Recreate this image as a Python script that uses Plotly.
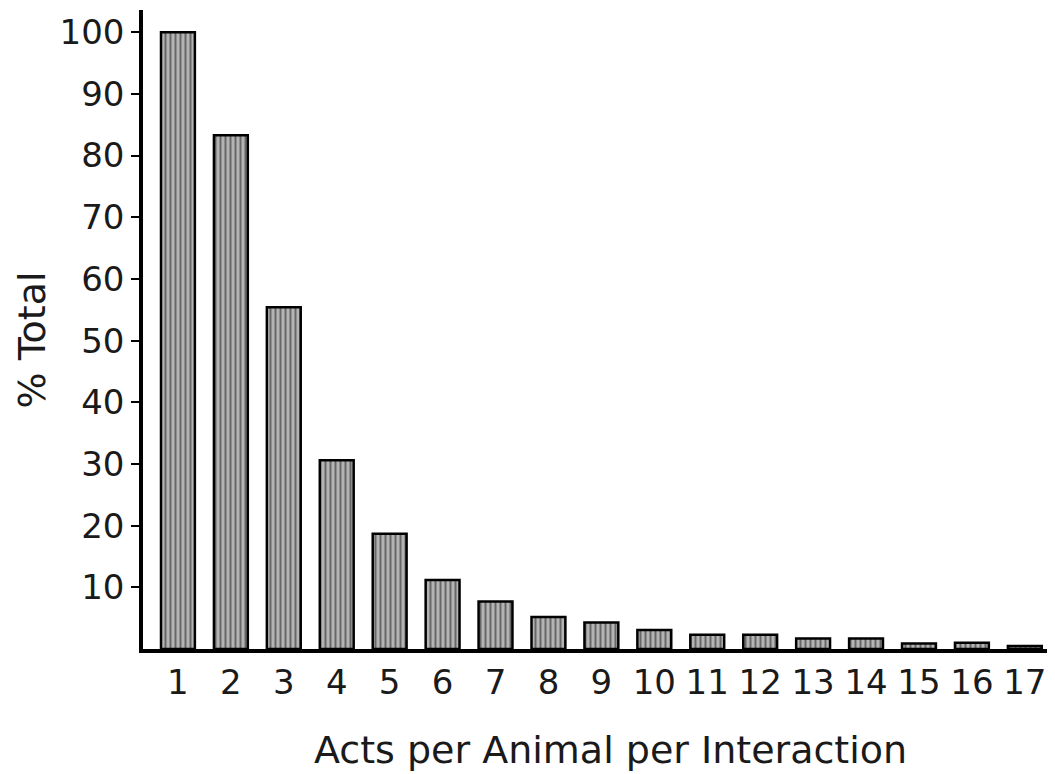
import plotly.graph_objects as go

acts = list(range(1, 18))
tick_labels = [str(a) for a in acts]
pct_total = [100, 83.3, 55.4, 30.6, 18.7, 11.2, 7.7, 5.2, 4.3, 3.1, 2.3, 2.3, 1.7, 1.7, 0.9, 1.0, 0.5]
y_ticks = [10, 20, 30, 40, 50, 60, 70, 80, 90, 100]

fig = go.Figure()
fig.add_trace(go.Bar(
    x=acts, y=pct_total, width=0.64,
    marker=dict(
        color="#b0b0b0",
        line=dict(color="black", width=2.5),
        pattern=dict(shape="|", fgcolor="#1a1a1a", bgcolor="#b4b4b4", size=5, solidity=0.4),
    ),
    showlegend=False,
))

font_family = "'DejaVu Sans ExtraLight', 'DejaVu Sans', sans-serif"
fig.update_layout(
    width=1047, height=766,
    margin=dict(l=135, r=0, t=2, b=125),
    plot_bgcolor="white", paper_bgcolor="white",
    font=dict(family=font_family, size=34, color="#1a1a1a"),
    xaxis=dict(
        range=[0.34, 17.57], tickmode="array", tickvals=acts, ticktext=tick_labels,
        showline=True, linecolor="black", linewidth=3.5, ticks="", showgrid=False,
        zeroline=False, tickfont=dict(size=34),
    ),
    yaxis=dict(
        range=[0, 103.6], tickmode="array", tickvals=y_ticks,
        ticktext=[str(v) for v in y_ticks],
        showline=True, linecolor="black", linewidth=3.5, ticks="outside", ticklen=8,
        tickwidth=2, tickcolor="black", showgrid=False, zeroline=False,
        tickfont=dict(size=34),
    ),
    annotations=[
        dict(text="Acts per Animal per Interaction", xref="paper", yref="paper",
             x=0.513, y=-0.158, xanchor="center", yanchor="middle", showarrow=False,
             font=dict(size=38)),
        dict(text="% Total", xref="paper", yref="paper", x=-0.122, y=0.484,
             xanchor="center", yanchor="middle", textangle=-90, showarrow=False,
             font=dict(size=38)),
    ],
)

fig.write_html("out.html")
